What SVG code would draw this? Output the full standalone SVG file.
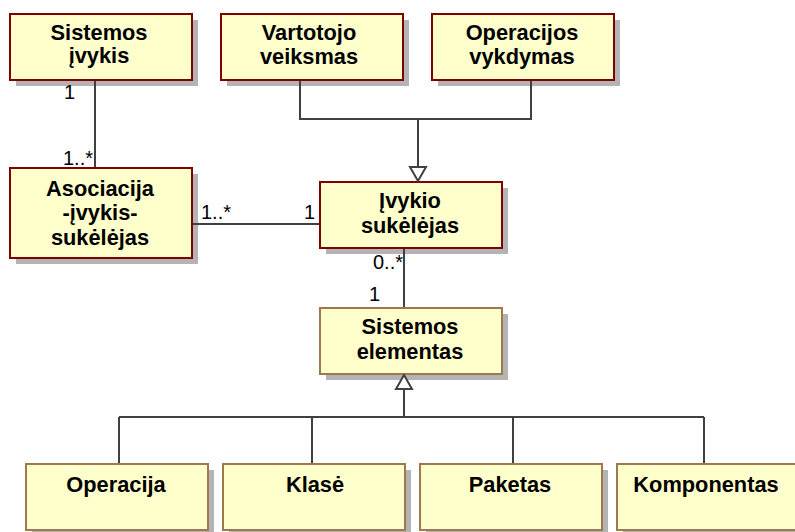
<svg xmlns="http://www.w3.org/2000/svg" width="795" height="532" viewBox="0 0 795 532">
  <defs>
    <style>
      .shadow { fill: #b4b4b4; }
      .box { fill: #ffffcc; stroke: #800000; stroke-width: 2; }
      .box2 { fill: #ffffcc; stroke: #a07850; stroke-width: 2; }
      .name { font-family: "Liberation Sans", Arial, sans-serif; font-weight: bold; font-size: 21.8px; fill: #000; text-anchor: middle; }
      .mult { font-family: "Liberation Sans", Arial, sans-serif; font-size: 20px; fill: #000; }
      .line { fill: none; stroke: #404040; stroke-width: 2; }
      .head { fill: #fff; stroke: #404040; stroke-width: 2; stroke-linejoin: miter; }
    </style>
  </defs>
  <rect width="795" height="532" fill="#fff"/>

  <g id="sistemos-ivykis">
    <rect class="shadow" x="16" y="20" width="182" height="66"/>
    <rect class="box" x="10" y="14" width="182" height="66"/>
    <text class="name" x="99" y="40">Sistemos</text>
    <text class="name" x="99" y="63">įvykis</text>
  </g>

  <g id="vartotojo-veiksmas">
    <rect class="shadow" x="227" y="20" width="182" height="66"/>
    <rect class="box" x="221" y="14" width="182" height="66"/>
    <text class="name" x="309" y="40">Vartotojo</text>
    <text class="name" x="309" y="64">veiksmas</text>
  </g>

  <g id="operacijos-vykdymas">
    <rect class="shadow" x="438" y="20" width="182" height="66"/>
    <rect class="box" x="432" y="14" width="182" height="66"/>
    <text class="name" x="522" y="40">Operacijos</text>
    <text class="name" x="522" y="64">vykdymas</text>
  </g>

  <g id="asociacija">
    <rect class="shadow" x="16" y="174" width="182" height="90"/>
    <rect class="box" x="10" y="168" width="182" height="90"/>
    <text class="name" x="100" y="196">Asociacija</text>
    <text class="name" x="100" y="220">-įvykis-</text>
    <text class="name" x="100" y="245">sukėlėjas</text>
  </g>

  <g id="ivykio-sukelejas">
    <rect class="shadow" x="326" y="188" width="182" height="66"/>
    <rect class="box" x="320" y="182" width="182" height="66"/>
    <text class="name" x="410" y="208">Įvykio</text>
    <text class="name" x="410" y="233">sukėlėjas</text>
  </g>

  <g id="sistemos-elementas">
    <rect class="shadow" x="326" y="314" width="182" height="66"/>
    <rect class="box2" x="320" y="308" width="182" height="66"/>
    <text class="name" x="410" y="334">Sistemos</text>
    <text class="name" x="410" y="359">elementas</text>
  </g>

  <g id="operacija">
    <rect class="shadow" x="32" y="470" width="182" height="66"/>
    <rect class="box2" x="26" y="464" width="182" height="66"/>
    <text class="name" x="116" y="492">Operacija</text>
  </g>

  <g id="klase">
    <rect class="shadow" x="229" y="470" width="182" height="66"/>
    <rect class="box2" x="223" y="464" width="182" height="66"/>
    <text class="name" x="315" y="492">Klasė</text>
  </g>

  <g id="paketas">
    <rect class="shadow" x="426" y="470" width="182" height="66"/>
    <rect class="box2" x="420" y="464" width="182" height="66"/>
    <text class="name" x="510" y="492">Paketas</text>
  </g>

  <g id="komponentas">
    <rect class="shadow" x="623" y="470" width="182" height="66"/>
    <rect class="box2" x="617" y="464" width="182" height="66"/>
    <text class="name" x="706" y="492">Komponentas</text>
  </g>

  <!-- connectors, drawn over the node shadows -->
  <g id="connectors">
    <!-- association: Sistemos ivykis - Asociacija -->
    <line class="line" x1="95" y1="81" x2="95" y2="167"/>
    <!-- association: Asociacija - Ivykio sukelejas -->
    <line class="line" x1="193" y1="224" x2="319" y2="224"/>
    <!-- association: Ivykio sukelejas - Sistemos elementas -->
    <line class="line" x1="404" y1="249" x2="404" y2="307"/>
    <!-- generalization to Ivykio sukelejas -->
    <polyline class="line" points="300,81 300,119 531,119 531,81"/>
    <line class="line" x1="418" y1="119" x2="418" y2="167"/>
    <polygon class="head" points="410,167 426,167 418,181"/>
    <!-- generalization to Sistemos elementas -->
    <line class="line" x1="404" y1="389" x2="404" y2="417"/>
    <polygon class="head" points="396,389 412,389 404,375"/>
    <line class="line" x1="119" y1="417" x2="704" y2="417"/>
    <line class="line" x1="119" y1="417" x2="119" y2="463"/>
    <line class="line" x1="312" y1="417" x2="312" y2="463"/>
    <line class="line" x1="513" y1="417" x2="513" y2="463"/>
    <line class="line" x1="704" y1="417" x2="704" y2="463"/>
    <!-- multiplicities -->
    <text class="mult" x="64" y="99">1</text>
    <text class="mult" x="63" y="165">1..*</text>
    <text class="mult" x="201" y="219">1..*</text>
    <text class="mult" x="304" y="219">1</text>
    <text class="mult" x="373" y="269">0..*</text>
    <text class="mult" x="369" y="301">1</text>
  </g>
</svg>
